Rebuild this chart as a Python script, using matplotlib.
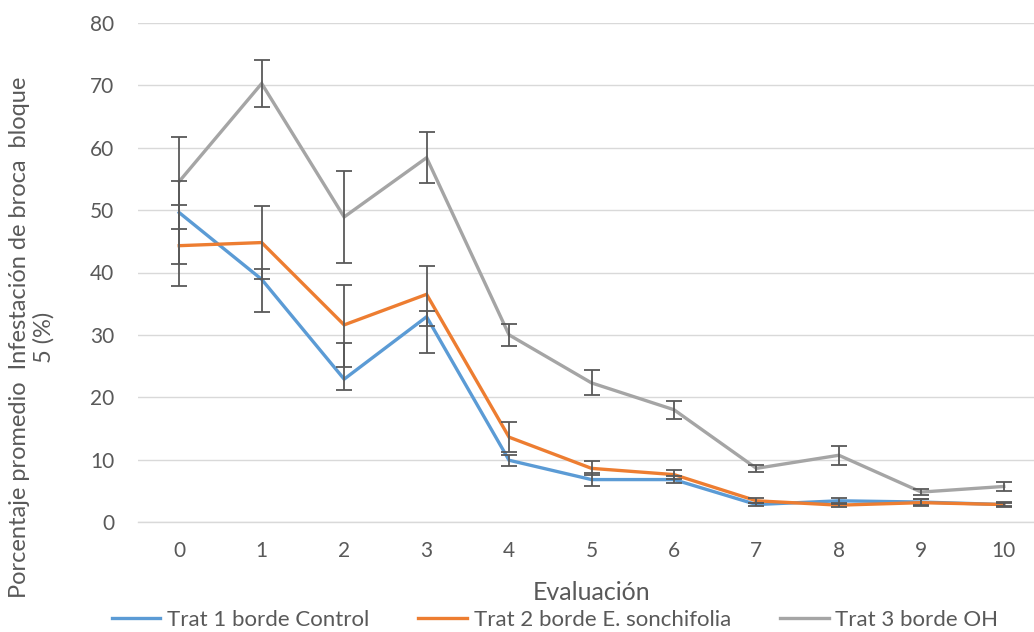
import numpy as np
import matplotlib
matplotlib.use("Agg")
import matplotlib.pyplot as plt

plt.rcParams['font.family'] = ['Lato', 'DejaVu Sans']

# Data
evaluacion = list(range(11))

trat1 = [49.6, 38.9, 22.9, 32.9, 9.9, 6.8, 6.8, 2.8, 3.4, 3.2, 2.8]
trat1_err_low = [8.3, 5.3, 1.8, 5.8, 0.9, 1.0, 0.6, 0.3, 0.5, 0.5, 0.4]
trat1_err_up = [5.1, 1.6, 5.8, 0.9, 0.9, 1.0, 0.6, 0.3, 0.5, 0.5, 0.4]

trat2 = [44.3, 44.8, 31.6, 36.5, 13.6, 8.6, 7.6, 3.4, 2.7, 3.1, 2.8]
trat2_err_low = [6.5, 5.8, 6.7, 5.0, 2.4, 1.1, 0.7, 0.4, 0.3, 0.6, 0.3]
trat2_err_up = [6.5, 5.9, 6.4, 4.5, 2.4, 1.1, 0.7, 0.4, 0.3, 0.6, 0.3]

trat3 = [54.6, 70.3, 48.9, 58.4, 30.0, 22.3, 18.0, 8.6, 10.7, 4.8, 5.7]
trat3_err_low = [7.6, 3.7, 7.3, 4.1, 1.8, 2.0, 1.5, 0.6, 1.5, 0.5, 0.75]
trat3_err_up = [7.2, 3.7, 7.4, 4.1, 1.7, 2.0, 1.4, 0.5, 1.5, 0.5, 0.75]

labels = ["Trat 1 borde Control", "Trat 2 borde E. sonchifolia", "Trat 3 borde OH"]
colors = ["#5B9BD5", "#ED7D31", "#A5A5A5"]
text_color = "#595959"

W, H = 1034, 632
fig = plt.figure(figsize=(W / 100, H / 100), dpi=100)
# plot area in pixels: x 138..1045, y 23..522
ax = fig.add_axes([138 / W, 1 - 522 / H, (1045 - 138) / W, (522 - 23) / H])

series = [(trat1, trat1_err_low, trat1_err_up),
          (trat2, trat2_err_low, trat2_err_up),
          (trat3, trat3_err_low, trat3_err_up)]

handles = []
for (vals, lo, up), lab, col in zip(series, labels, colors):
    line, = ax.plot(evaluacion, vals, color=col, lw=2.4, label=lab, zorder=3,
                    solid_joinstyle='miter')
    ax.errorbar(evaluacion, vals, yerr=[lo, up], fmt='none', ecolor='#595959',
                elinewidth=1.3, capsize=5.8, capthick=1.3, zorder=4)
    handles.append(line)

ax.set_xlim(-0.5, 10.5)
ax.set_ylim(0, 80)
ax.set_yticks(np.arange(0, 81, 10))
ax.set_xticks(evaluacion)
ax.yaxis.grid(True, color='#D9D9D9', lw=1.0)
ax.set_axisbelow(True)
for s in ['top', 'right', 'left']:
    ax.spines[s].set_visible(False)
ax.spines['bottom'].set_color('#D9D9D9')
ax.spines['bottom'].set_linewidth(1.0)
ax.tick_params(axis='both', length=0, labelsize=15, labelcolor=text_color)
ax.tick_params(axis='y', pad=17)
ax.tick_params(axis='x', pad=14)

fig.text(592 / W, 1 - 592 / H, "Evaluación", ha='center', va='center',
         fontsize=18, color=text_color)
fig.text(32 / W, 1 - 337 / H,
         "Porcentaje promedio  Infestación de broca  bloque\n5 (%)",
         ha='center', va='center', rotation=90, fontsize=17,
         color=text_color, linespacing=1.2)

leg = fig.legend(handles, labels, loc='center', bbox_to_anchor=(555 / W, 1 - 620 / H),
                 ncol=3, frameon=False, fontsize=16, handlelength=2.2,
                 handletextpad=0.3, columnspacing=2.2, borderaxespad=0)
for t in leg.get_texts():
    t.set_color(text_color)

fig.savefig("out.png", dpi=100)
